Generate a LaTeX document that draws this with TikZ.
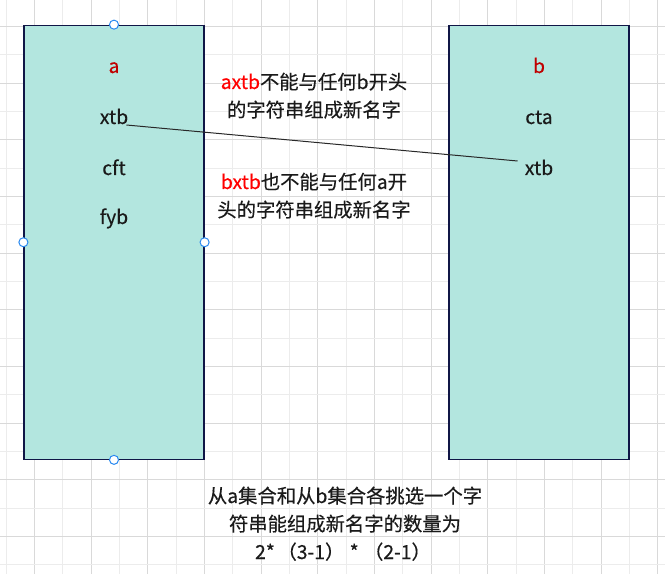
\documentclass[tikz,border=0pt]{standalone}
\usepackage{fontspec}
\setmainfont{Noto Sans CJK SC}[FakeBold=0.35]
\definecolor{gridmajor}{RGB}{217,217,217}
\definecolor{gridminor}{RGB}{236,236,236}
\definecolor{boxfill}{RGB}{179,230,223}
\definecolor{boxdraw}{RGB}{16,22,70}
\definecolor{labred}{RGB}{192,0,0}
\definecolor{hired}{RGB}{255,0,0}
\definecolor{txt}{RGB}{26,26,26}
\definecolor{handle}{RGB}{41,137,240}
\definecolor{linkgray}{RGB}{40,40,40}
\begin{document}
\begin{tikzpicture}[x=0.75pt,y=-0.75pt,
  lbl/.style={inner sep=0pt, anchor=base, font=\fontsize{14.5}{21}\selectfont, text=txt},
  setbox/.style={draw=boxdraw, fill=boxfill, line width=0.9pt, minimum width=135pt, minimum height=325.5pt, inner sep=0pt},
  handlept/.style={circle, draw=handle, fill=white, line width=0.75pt, minimum size=6.8pt, inner sep=0pt},
  link/.style={draw=linkgray, line width=0.75pt}]
\useasboundingbox (0,0) rectangle (665,574);
\fill[white] (0,0) rectangle (665,574);
% grid
\foreach \k in {0,...,23}{
  \pgfmathsetmacro\xx{6.33+28.333*\k}
  \ifodd\k \draw[gridmajor, line width=0.75pt] (\xx,0) -- (\xx,574);
  \else \draw[gridminor, line width=0.75pt] (\xx,0) -- (\xx,574); \fi
}
\foreach \k in {1,...,20}{
  \pgfmathsetmacro\yy{-1.67+28.333*\k}
  \ifodd\k \draw[gridmajor, line width=0.75pt] (0,\yy) -- (665,\yy);
  \else \draw[gridminor, line width=0.75pt] (0,\yy) -- (665,\yy); \fi
}
% sets
\node[setbox] (setA) at (114,242.25) {};
\node[setbox] (setB) at (539,242.5) {};
% left labels
\node[lbl, text=labred] (lblA) at (114,73) {a};
\node[lbl] (xtbA) at (114,124) {xtb};
\node[lbl] (cftA) at (114,175) {cft};
\node[lbl] (fybA) at (114,224) {fyb};
% right labels
\node[lbl, text=labred] (lblB) at (539,73) {b};
\node[lbl] (ctaB) at (539,124) {cta};
\node[lbl] (xtbB) at (539,175) {xtb};
% connector
\draw[link] ([shift={(-2,1)}]xtbA.base east) -- ([shift={(-7,-14)}]xtbB.base west);
% middle notes
\node[lbl] (noteA1) at (314,89) {\textcolor{hired}{axtb}不能与任何b开头};
\node[lbl] (noteA2) at (314,117) {的字符串组成新名字};
\node[lbl] (noteB1) at (314,189) {\textcolor{hired}{bxtb}也不能与任何a开};
\node[lbl] (noteB2) at (314,217) {头的字符串组成新名字};
% bottom text
\node[lbl] (sum1) at (345,503) {从a集合和从b集合各挑选一个字};
\node[lbl] (sum2) at (345,531) {符串能组成新名字的数量为};
\node[lbl] (sum3) at (343,559) {2*\hspace{2pt}（3-1）\hspace{4pt}*\hspace{4pt}（2-1）};
% handles
\node[handlept] (hN) at (setA.north) {};
\node[handlept] (hW) at (setA.west) {};
\node[handlept] (hE) at (setA.east) {};
\node[handlept] (hS) at (setA.south) {};
\end{tikzpicture}
\end{document}
